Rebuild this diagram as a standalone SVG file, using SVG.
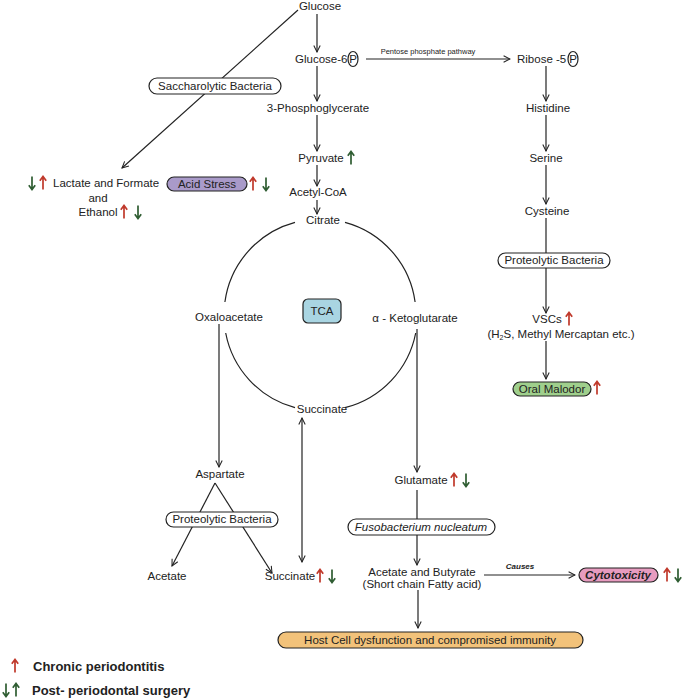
<svg xmlns="http://www.w3.org/2000/svg" xmlns:xlink="http://www.w3.org/1999/xlink" width="685" height="700" viewBox="0 0 685 700">
<style>
text{font-family:"Liberation Sans",Arial,sans-serif;font-size:11.5px;fill:#222}
.c{text-anchor:middle}
.pill{fill:#fff;stroke:#222;stroke-width:1.2}
.ln{stroke:#222;stroke-width:1.2;fill:none}
.arr{marker-end:url(#ah)}
.red{color:#c0392b}
.grn{color:#2f5d32}
.leg{font-weight:bold;font-size:13px}
</style>
<defs>
<marker id="ah" viewBox="0 0 10 10" refX="9" refY="5" markerWidth="8" markerHeight="8" markerUnits="userSpaceOnUse" orient="auto-start-reverse">
<path d="M1,1 L9,5 L1,9" fill="none" stroke="#222" stroke-width="1.3"/>
</marker>
<path id="up" d="M0,6.5 V-6 M-3.2,-2.2 L0,-6.5 L3.2,-2.2" fill="none" stroke="currentColor" stroke-width="1.7"/>
<path id="dn" d="M0,-6.5 V6 M-3.2,2.2 L0,6.5 L3.2,2.2" fill="none" stroke="currentColor" stroke-width="1.7"/>
</defs>
<rect width="685" height="700" fill="#fff"/>

<g id="connectors">
<line class="ln arr" x1="317" y1="14" x2="317" y2="52"/>
<line class="ln arr" x1="317" y1="66" x2="317" y2="101"/>
<line class="ln arr" x1="317" y1="115" x2="317" y2="151"/>
<line class="ln arr" x1="317" y1="165" x2="317" y2="186"/>
<line class="ln arr" x1="317" y1="200" x2="317" y2="214"/>
<line class="ln arr" x1="298" y1="10" x2="122" y2="168"/>
<line class="ln arr" x1="366" y1="59" x2="510" y2="59"/>
<line class="ln arr" x1="546" y1="66" x2="546" y2="101"/>
<line class="ln arr" x1="546" y1="115" x2="546" y2="151"/>
<line class="ln arr" x1="546" y1="165" x2="546" y2="204"/>
<line class="ln arr" x1="546" y1="218" x2="546" y2="313"/>
<line class="ln arr" x1="546" y1="341" x2="546" y2="379"/>
<line class="ln arr" x1="219" y1="324" x2="219" y2="467"/>
<line class="ln arr" x1="215" y1="483" x2="172" y2="566"/>
<line class="ln arr" x1="215" y1="483" x2="272" y2="573"/>
<line class="ln" x1="302" y1="418" x2="302" y2="562" marker-start="url(#ah)" marker-end="url(#ah)"/>
<line class="ln arr" x1="417" y1="329" x2="417" y2="472"/>
<line class="ln arr" x1="417" y1="490" x2="417" y2="565"/>
<line class="ln arr" x1="484" y1="575" x2="575" y2="575"/>
<line class="ln arr" x1="418" y1="590" x2="418" y2="628"/>
<path class="ln" d="M295,222.3 A96,96 0 0 0 224.9,302"/>
<path class="ln" d="M225.7,333 A96,96 0 0 0 295,407.7"/>
<path class="ln" d="M345,222.3 A96,96 0 0 1 415.1,302"/>
<path class="ln" d="M415.7,333 A96,96 0 0 1 345,407.7"/>
<text class="c" x="428" y="54" style="font-size:7.5px">Pentose phosphate pathway</text>
<text class="c" x="520" y="569" style="font-size:8px;font-weight:bold;font-style:italic">Causes</text>
</g>

<g id="glucose"><text class="c" x="320" y="10">Glucose</text></g>
<g id="g6p"><text x="295" y="63">Glucose-6</text><ellipse cx="353" cy="59" rx="5" ry="7.5" class="ln"/><text class="c" x="353" y="63">P</text></g>
<g id="pg3"><text class="c" x="318" y="112">3-Phosphoglycerate</text></g>
<g id="pyruvate"><text class="c" x="321" y="162">Pyruvate</text><use href="#up" x="351" y="158" class="grn"/></g>
<g id="acetylcoa"><text class="c" x="318" y="196">Acetyl-CoA</text></g>
<g id="citrate"><text class="c" x="323" y="224">Citrate</text></g>

<g id="saccharolytic"><rect class="pill" x="149" y="78" width="132" height="16" rx="8"/><text class="c" x="215" y="90">Saccharolytic Bacteria</text></g>
<g id="lactate">
<use href="#dn" x="32" y="183" class="grn"/><use href="#up" x="43" y="183" class="red"/>
<text x="53" y="187">Lactate and Formate</text>
<text class="c" x="98" y="202">and</text>
<text class="c" x="98" y="216">Ethanol</text>
<use href="#up" x="124" y="212" class="red"/><use href="#dn" x="138" y="212" class="grn"/>
</g>
<g id="acidstress"><rect class="pill" x="167" y="177" width="80" height="14" rx="7" style="fill:#a99ac9"/><text class="c" x="207" y="188">Acid Stress</text>
<use href="#up" x="253" y="184" class="red"/><use href="#dn" x="266" y="184" class="grn"/></g>

<g id="ribose"><text x="517" y="63">Ribose -5</text><ellipse cx="573" cy="59" rx="5" ry="7.5" class="ln"/><text class="c" x="573" y="63">P</text></g>
<g id="histidine"><text class="c" x="548" y="112">Histidine</text></g>
<g id="serine"><text class="c" x="546" y="162">Serine</text></g>
<g id="cysteine"><text class="c" x="547" y="215">Cysteine</text></g>
<g id="proteolytic1"><rect class="pill" x="498" y="253" width="112" height="15" rx="7.5"/><text class="c" x="554" y="264">Proteolytic Bacteria</text></g>
<g id="vscs"><text class="c" x="547" y="323">VSCs</text><use href="#up" x="569" y="319" class="red"/>
<text class="c" x="561" y="338">(H<tspan style="font-size:7px" dy="2">2</tspan><tspan dy="-2">S, Methyl Mercaptan etc.)</tspan></text></g>
<g id="malodor"><rect class="pill" x="513" y="382" width="78" height="14" rx="7" style="fill:#9fcf8c"/><text class="c" x="552" y="393">Oral Malodor</text><use href="#up" x="597" y="388" class="red"/></g>

<g id="tca"><rect x="303" y="299" width="38" height="24" rx="5" style="fill:#a9d5e2;stroke:#222;stroke-width:1.2"/><text class="c" x="322" y="315">TCA</text></g>
<g id="oxaloacetate"><text class="c" x="229" y="321">Oxaloacetate</text></g>
<g id="akg"><text class="c" x="415" y="322">α - Ketoglutarate</text></g>
<g id="succinate1"><text class="c" x="322" y="413">Succinate</text></g>

<g id="aspartate"><text class="c" x="220" y="478">Aspartate</text></g>
<g id="proteolytic2"><rect class="pill" x="166" y="512" width="112" height="15" rx="7.5"/><text class="c" x="222" y="523">Proteolytic Bacteria</text></g>
<g id="acetate"><text class="c" x="167" y="580">Acetate</text></g>
<g id="succinate2"><text class="c" x="290" y="580">Succinate</text><use href="#up" x="320" y="576" class="red"/><use href="#dn" x="332" y="576" class="grn"/></g>

<g id="glutamate"><text class="c" x="421" y="484">Glutamate</text><use href="#up" x="454" y="480" class="red"/><use href="#dn" x="466" y="480" class="grn"/></g>
<g id="fuso"><rect class="pill" x="348" y="519" width="147" height="16" rx="8"/><text class="c" x="421" y="531" style="font-style:italic">Fusobacterium nucleatum</text></g>
<g id="scfa"><text class="c" x="422" y="576">Acetate and Butyrate</text><text class="c" x="422" y="588">(Short chain Fatty acid)</text></g>
<g id="cytotoxicity"><rect class="pill" x="579" y="568" width="79" height="14" rx="7" style="fill:#e79bbf"/><text class="c" x="618" y="579" style="font-weight:bold;font-style:italic">Cytotoxicity</text>
<use href="#up" x="667" y="575" class="red"/><use href="#dn" x="678" y="575" class="grn"/></g>
<g id="host"><rect class="pill" x="278" y="632" width="305" height="16" rx="8" style="fill:#f2c27a"/><text class="c" x="430" y="644">Host Cell dysfunction and compromised immunity</text></g>

<g id="legend">
<use href="#up" x="15" y="666" class="red"/><text class="leg" x="33" y="671">Chronic periodontitis</text>
<use href="#dn" x="6" y="690" class="grn"/><use href="#up" x="16" y="690" class="grn"/><text class="leg" x="32" y="695">Post- periodontal surgery</text>
</g>
</svg>
